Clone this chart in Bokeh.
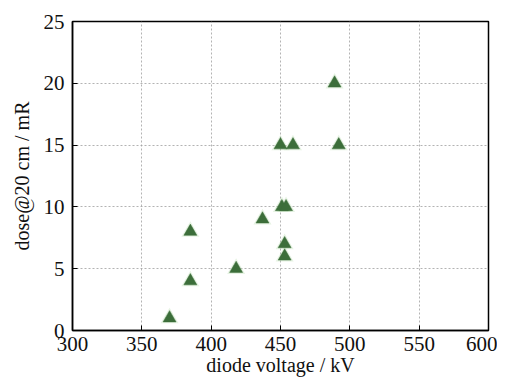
from bokeh.plotting import figure
from bokeh.models import Range1d, FixedTicker
from bokeh.embed import file_html
from bokeh.resources import INLINE

voltage_kV = [370, 385, 385, 418, 437, 451, 454, 453, 453, 450, 459, 489, 492]
dose_mR = [1, 4, 8, 5, 9, 10, 10, 7, 6, 15, 15, 20, 15]
x_ticks = [300, 350, 400, 450, 500, 550, 600]
y_ticks = [0, 5, 10, 15, 20, 25]

TICK_FONT = "Liberation Serif, serif"
LABEL_FONT = "Liberation Serif, serif"

p = figure(output_backend="svg", toolbar_location=None,
           x_range=Range1d(300, 600), y_range=Range1d(0, 25),
           frame_width=416, frame_height=309,
           min_border_left=72, min_border_right=9, min_border_top=21, min_border_bottom=28)
p.background_fill_color = "white"
p.border_fill_color = "white"
p.outline_line_color = "black"
p.outline_line_width = 1.5
p.outline_line_alpha = 1.0

for ax in (p.xaxis[0], p.yaxis[0]):
    ax.major_label_text_font = TICK_FONT
    ax.major_label_text_font_size = "21px"
    ax.major_label_text_color = "#111111"
    ax.axis_label_text_font = LABEL_FONT
    ax.axis_label_text_font_size = "20px"
    ax.axis_label_text_font_style = "normal"
    ax.axis_label_text_color = "#111111"
    ax.axis_line_color = "black"
    ax.axis_line_width = 1.5
    ax.major_tick_in = 5
    ax.major_tick_out = 0
    ax.major_tick_line_color = "black"
    ax.minor_tick_line_color = None

p.xaxis.ticker = FixedTicker(ticks=x_ticks)
p.yaxis.ticker = FixedTicker(ticks=y_ticks)
p.xaxis.axis_label = "diode voltage / kV"
p.yaxis.axis_label = "dose@20 cm / mR"
p.xaxis.major_label_standoff = 6
p.xaxis.axis_label_standoff = 0
p.yaxis.major_label_standoff = 8
p.yaxis.axis_label_standoff = 8

p.grid.grid_line_color = "#a0a0a0"
p.grid.grid_line_dash = "2 2"
p.grid.grid_line_width = 1
p.grid.grid_line_alpha = 0.8

# soft glow
p.scatter(voltage_kV, dose_mR, marker="triangle", size=18, fill_color="#b7dcae",
          fill_alpha=0.35, line_color=None)
p.scatter(voltage_kV, dose_mR, marker="triangle", size=13, fill_color="#3c6e3a",
          line_color="#3c6e3a", line_width=0.5)

open("out.html", "w").write(file_html(p, INLINE))
